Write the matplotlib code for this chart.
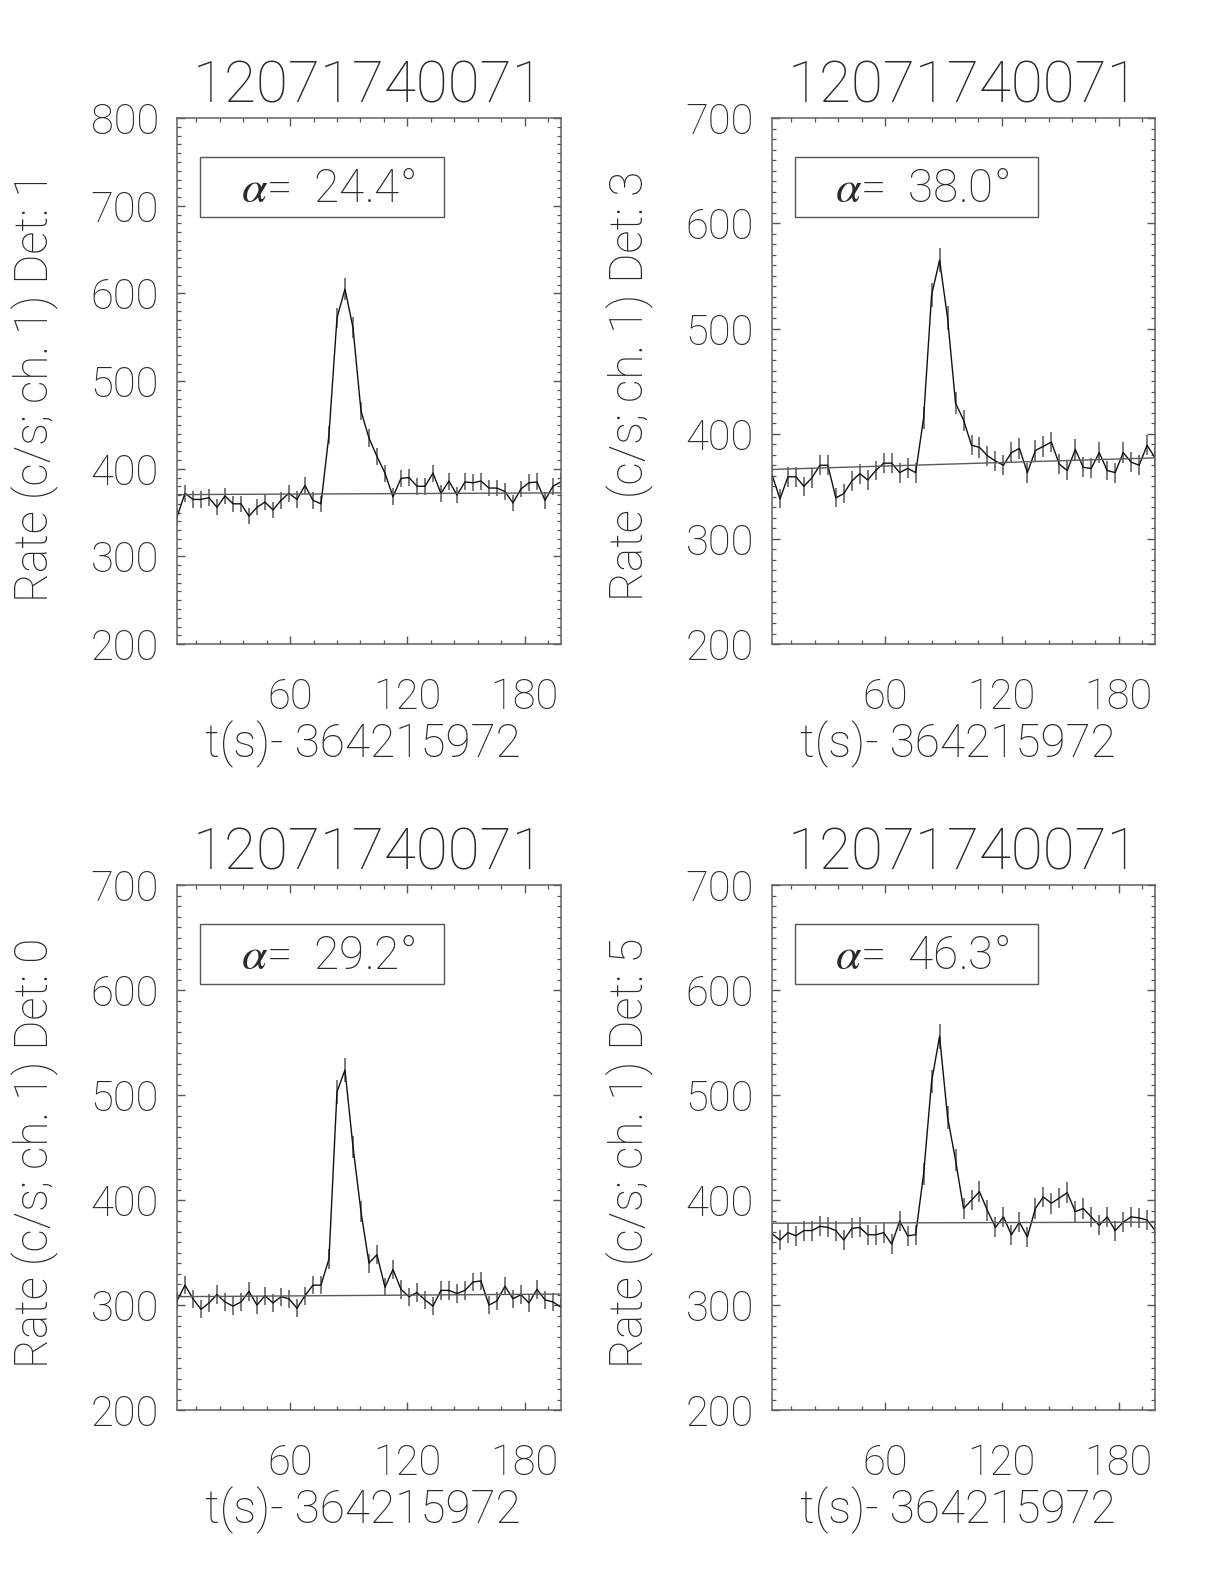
import numpy as np
import matplotlib
matplotlib.use("Agg")
import matplotlib.pyplot as plt
import matplotlib.patches as mpatches
from matplotlib.ticker import FixedLocator, MultipleLocator

plt.rcParams["font.family"] = ["Roboto", "DejaVu Sans"]
plt.rcParams["font.weight"] = "light"
plt.rcParams["mathtext.fontset"] = "custom"
plt.rcParams["mathtext.it"] = "STIXGeneral:italic"
plt.rcParams["mathtext.rm"] = "Roboto:light"

# light curves, 4.096 s bins, one list per detector
obs_id = "12071740071"
time_label = "t(s)- 364215972"
t_start = 2.048
bin_width = 4.096

detectors = [1, 3, 0, 5]
angles = [24.4, 38.0, 29.2, 46.3]
y_top = [800, 700, 700, 700]

rate_det1 = [345, 372, 365, 365, 367, 356, 369, 360, 360, 346, 356, 362, 353, 364, 372,
             365, 381, 364, 360, 439, 572, 605, 561, 466, 435, 414, 395, 368, 389, 390,
             380, 380, 395, 372, 386, 370, 385, 384, 386, 378, 378, 374, 361, 377, 384,
             385, 364, 380, 385]
err_det1 = [9.2, 9.5, 9.4, 9.4, 9.5, 9.3, 9.5, 9.4, 9.4, 9.2, 9.3, 9.4, 9.3, 9.4, 9.5,
            9.4, 9.6, 9.4, 9.4, 10.3, 11.8, 12.1, 11.7, 10.7, 10.3, 10.0, 9.8, 9.5, 9.7, 9.8,
            9.6, 9.6, 9.8, 9.5, 9.7, 9.5, 9.7, 9.7, 9.7, 9.6, 9.6, 9.5, 9.4, 9.6, 9.7,
            9.7, 9.4, 9.6, 9.7]

rate_det3 = [361, 338, 359, 359, 350, 358, 370, 370, 339, 343, 355, 362, 356, 365, 372,
             372, 363, 367, 363, 415, 532, 565, 510, 429, 413, 389, 387, 379, 374, 370,
             382, 386, 363, 384, 388, 392, 371, 365, 385, 368, 367, 382, 365, 363, 382,
             373, 370, 389, 377]
err_det3 = [9.4, 9.1, 9.4, 9.4, 9.2, 9.3, 9.5, 9.5, 9.1, 9.2, 9.3, 9.4, 9.3, 9.4, 9.5,
            9.5, 9.4, 9.5, 9.4, 10.1, 11.4, 11.7, 11.2, 10.2, 10.0, 9.7, 9.7, 9.6, 9.6, 9.5,
            9.7, 9.7, 9.4, 9.7, 9.7, 9.8, 9.5, 9.4, 9.7, 9.5, 9.5, 9.7, 9.4, 9.4, 9.7,
            9.5, 9.5, 9.7, 9.6]

rate_det0 = [304, 319, 306, 296, 302, 310, 303, 299, 303, 313, 300, 309, 302, 308, 306,
             297, 309, 319, 319, 344, 503, 524, 451, 389, 340, 348, 317, 334, 315, 308,
             312, 305, 299, 314, 314, 311, 314, 322, 323, 300, 304, 318, 306, 310, 302,
             315, 305, 303, 298]
err_det0 = [8.6, 8.8, 8.6, 8.5, 8.6, 8.7, 8.6, 8.5, 8.6, 8.7, 8.6, 8.7, 8.6, 8.7, 8.6,
            8.5, 8.7, 8.8, 8.8, 9.2, 11.1, 11.3, 10.5, 9.7, 9.1, 9.2, 8.8, 9.0, 8.8, 8.7,
            8.7, 8.6, 8.5, 8.8, 8.8, 8.7, 8.8, 8.9, 8.9, 8.6, 8.6, 8.8, 8.6, 8.7, 8.6,
            8.8, 8.6, 8.6, 8.5]

rate_det5 = [368, 362, 369, 366, 371, 371, 375, 374, 371, 362, 373, 374, 367, 367, 369,
             358, 380, 366, 367, 425, 513, 556, 479, 438, 392, 400, 408, 390, 374, 384,
             367, 379, 365, 392, 403, 397, 402, 407, 389, 392, 384, 376, 384, 371, 379,
             384, 383, 381, 371]
err_det5 = [9.5, 9.4, 9.5, 9.5, 9.5, 9.5, 9.6, 9.6, 9.5, 9.4, 9.5, 9.6, 9.5, 9.5, 9.5,
            9.3, 9.6, 9.5, 9.5, 10.2, 11.2, 11.7, 10.8, 10.3, 9.8, 9.9, 10.0, 9.8, 9.6, 9.7,
            9.5, 9.6, 9.4, 9.8, 9.9, 9.8, 9.9, 10.0, 9.7, 9.8, 9.7, 9.6, 9.7, 9.5, 9.6,
            9.7, 9.7, 9.6, 9.5]

# background fit, value at first and last bin
bg_start = [370.5, 366, 308, 378]
bg_end = [372.5, 377, 310.5, 379]

rates = [rate_det1, rate_det3, rate_det0, rate_det5]
errors = [err_det1, err_det3, err_det0, err_det5]

fig = plt.figure(figsize=(12.24, 15.84), dpi=100)

# axes boxes [left, bottom, width, height] in figure fraction
boxes = [[0.1446, 0.5934, 0.3137, 0.332],
         [0.6307, 0.5934, 0.3130, 0.332],
         [0.1446, 0.1098, 0.3137, 0.3314],
         [0.6307, 0.1098, 0.3130, 0.3314]]

txt_col = "#2a2a2a"
for k in range(4):
    ax = fig.add_axes(boxes[k])
    t = t_start + bin_width * np.arange(len(rates[k]))
    v = np.array(rates[k])
    e = np.array(errors[k])

    ax.vlines(t, v - e, v + e, colors="#707070", lw=1.3)
    ax.plot(t, v, color="#111111", lw=1.0)
    ax.plot([t[0], t[-1]], [bg_start[k], bg_end[k]], color="#5a5a5a", lw=1.0)

    ax.set_xlim(t[0], t[-1])
    ax.set_ylim(200, y_top[k])

    ax.xaxis.set_major_locator(FixedLocator([60, 120, 180]))
    ax.xaxis.set_minor_locator(MultipleLocator(12))
    ax.yaxis.set_major_locator(MultipleLocator(100))
    ax.yaxis.set_minor_locator(MultipleLocator(10))
    ax.tick_params(which="both", direction="in", top=True, right=True,
                   colors="#555555", labelcolor=txt_col)
    ax.tick_params(which="major", length=6, width=1.0, labelsize=30)
    ax.tick_params(which="minor", length=3.2, width=0.9)
    ax.tick_params(axis="y", pad=13)
    ax.tick_params(axis="x", pad=24)
    for s in ax.spines.values():
        s.set_color("#606060")
        s.set_linewidth(1.1)

    ylab = ax.get_yticklabels()
    ylab[0].set_verticalalignment("bottom")
    ylab[-1].set_verticalalignment("top")

    ax.text(0.5, 1.029, obs_id, transform=ax.transAxes, ha="center", va="baseline",
            fontsize=42, color=txt_col)
    ax.text(0.485, -0.215, time_label, transform=ax.transAxes, ha="center",
            va="baseline", fontsize=33, color=txt_col)
    ax.text(-0.37, 0.49, "Rate (c/s; ch. 1) Det: %d" % detectors[k],
            transform=ax.transAxes, ha="center", va="center", rotation=90,
            fontsize=33, color=txt_col)

    ax.add_patch(mpatches.Rectangle((0.06, 0.812), 0.635, 0.114, transform=ax.transAxes,
                                    fill=False, ec="#555555", lw=1.0))
    ax.text(0.392, 0.840, r"$\alpha$=  %.1f°" % angles[k], transform=ax.transAxes,
            ha="center", va="baseline", fontsize=33, color=txt_col)

fig.savefig("out.png", dpi=100, facecolor="white")
